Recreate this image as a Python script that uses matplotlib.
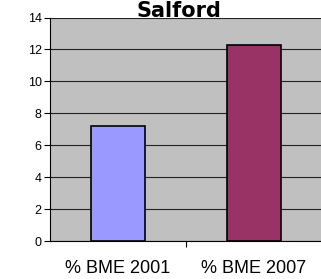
import matplotlib
matplotlib.use("Agg")
import matplotlib.pyplot as plt

categories = ["% BME 2001", "% BME 2007"]
values = [7.22, 12.25]
colors = ["#9999FF", "#993366"]
title = "Salford"

fig = plt.figure(figsize=(3.21, 2.79), dpi=100)
ax = fig.add_axes([50 / 321, 1 - 241 / 279, 272 / 321, 223.5 / 279])
ax.set_facecolor("#C0C0C0")

x = range(len(categories))
ax.bar(x, values, 0.4, color=colors, edgecolor="black", linewidth=1.2, zorder=3)

ax.set_xlim(-0.5, 1.5)
ax.set_ylim(0, 14)
ax.set_yticks(range(0, 15, 2))
ax.yaxis.grid(True, color="#222222", linewidth=0.8, zorder=0)
ax.tick_params(axis="y", labelsize=9, length=4, width=0.8, direction="out", pad=2)
for lbl in ax.get_yticklabels():
    lbl.set_fontfamily("Liberation Sans")

ax.set_xticks([0.5])
ax.set_xticklabels([""])
ax.tick_params(axis="x", length=4, width=0.8, direction="out")
for i, c in enumerate(categories):
    ax.text(i, -0.125, c, transform=ax.get_xaxis_transform(), ha="center", va="center",
            fontsize=13, fontfamily="Liberation Sans")

for s in ["top", "right"]:
    ax.spines[s].set_visible(False)
ax.spines["left"].set_linewidth(0.8)
ax.spines["bottom"].set_linewidth(0.8)

fig.text(179 / 321, 1 - 1 / 279, title, ha="center", va="top", fontsize=15,
         fontweight="bold", fontfamily="DejaVu Sans", zorder=5)

fig.savefig("out.png", dpi=100)
